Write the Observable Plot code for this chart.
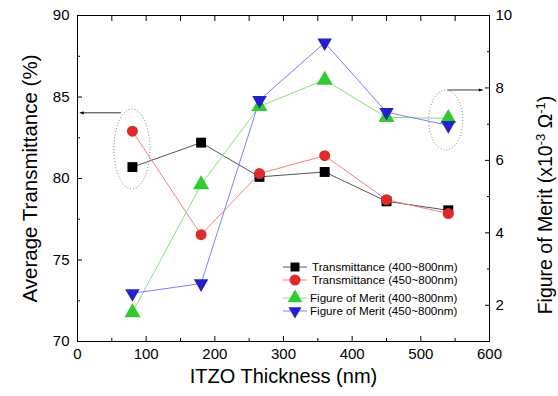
<!DOCTYPE html>
<html><head><meta charset="utf-8">
<script src="https://cdn.jsdelivr.net/npm/d3@7"></script>
<script src="https://cdn.jsdelivr.net/npm/@observablehq/plot@0.6"></script>
<style>body{margin:0;background:#fff} svg{display:block}</style>
</head><body><div id="chart"></div>
<script>
const thickness = [80, 180, 265, 360, 450, 540];
const trans400 = [80.7, 82.2, 80.1, 80.4, 78.6, 78.05];
const trans450 = [82.9, 76.55, 80.3, 81.4, 78.7, 77.85];
const fom400 = [1.8, 5.33, 7.49, 8.22, 7.19, 7.16];
const fom450 = [2.33, 2.6, 7.66, 9.25, 7.33, 6.97];
const seriesNames = ["Transmittance (400~800nm)", "Transmittance (450~800nm)", "Figure of Merit (400~800nm)", "Figure of Merit (450~800nm)"];
const xTicks = [0, 100, 200, 300, 400, 500, 600];
const xMinor = [50, 150, 250, 350, 450, 550];
const leftTicks = [70, 75, 80, 85, 90];
const leftMinor = [72.5, 77.5, 82.5, 87.5];
const rightTicks = [2, 4, 6, 8, 10];
const rightMinor = [1, 3, 5, 7, 9];
const xTitle = "ITZO Thickness (nm)";
const leftTitle = "Average Transmittance (%)";
const rightTitleParts = [["Figure of Merit (x10", false], ["-3", true], [" Ω", false], ["-1", true], [")", false]];

const toLeft = d3.scaleLinear([1, 10], [70, 90]);
const font = "Arial, 'Liberation Sans', sans-serif";

const colors = ["#000000", "#dd2b2b", "#2ecc2e", "#2222cc"];
const lineColors = ["#555555", "#f08080", "#80e080", "#8080ee"];

const rows = (vals, s, conv) => thickness.map((x, i) => ({x, y: conv ? toLeft(vals[i]) : vals[i], s}));
const d0 = rows(trans400, 0), d1 = rows(trans450, 1), d2 = rows(fom400, 2, true), d3r = rows(fom450, 3, true);

const plot = Plot.plot({
  width: 558, height: 396,
  marginLeft: 77, marginRight: 69, marginTop: 15, marginBottom: 55,
  style: {fontFamily: font, background: "#fff", color: "#000"},
  x: {domain: [0, 600]},
  y: {domain: [70, 90]},
  marks: [
    Plot.line(d0, {x: "x", y: "y", stroke: lineColors[0], strokeWidth: 1}),
    Plot.line(d1, {x: "x", y: "y", stroke: lineColors[1], strokeWidth: 1}),
    Plot.line(d2, {x: "x", y: "y", stroke: lineColors[2], strokeWidth: 1}),
    Plot.line(d3r, {x: "x", y: "y", stroke: lineColors[3], strokeWidth: 1}),
    Plot.dot(d0, {x: "x", y: "y", symbol: "square", r: 5.6, fill: colors[0]}),
    Plot.dot(d1, {x: "x", y: "y", symbol: "circle", r: 5.5, fill: colors[1]}),
    Plot.dot(d2, {x: "x", y: "y", symbol: "triangle", r: 6, fill: colors[2]}),
    Plot.dot(d3r, {x: "x", y: "y", symbol: "triangle", rotate: 180, r: 5.4, fill: colors[3]}),
    Plot.frame({stroke: "#000", strokeWidth: 1}),
    Plot.axisX(xTicks, {anchor: "bottom", tickSize: -5, tickPadding: 12, fontSize: 15, label: null}),
    Plot.axisX(xMinor, {anchor: "bottom", tickSize: -3, tickFormat: () => "", label: null}),
    Plot.axisX([...xTicks, ...xMinor], {anchor: "top", tickSize: -5, tickFormat: () => "", label: null}),
    Plot.axisY(leftTicks, {anchor: "left", tickSize: -5, tickPadding: 13, fontSize: 15, label: null}),
    Plot.axisY(leftMinor, {anchor: "left", tickSize: -3, tickFormat: () => "", label: null}),
    Plot.axisY(rightTicks.map(toLeft), {anchor: "right", tickSize: -5, tickPadding: 11, fontSize: 15, label: null, tickFormat: d => String(Math.round(toLeft.invert(d)))}),
    Plot.axisY(rightMinor.map(toLeft), {anchor: "right", tickSize: -3, tickFormat: () => "", label: null}),
    Plot.text([xTitle], {frameAnchor: "bottom", dy: 41, fontSize: 20, textAnchor: "middle", text: d => d}),
    Plot.text([leftTitle], {frameAnchor: "left", dx: -47, rotate: -90, fontSize: 20.5, textAnchor: "middle", text: d => d})
  ]
});
document.getElementById("chart").append(plot);

const xs = plot.scale("x"), ys = plot.scale("y");
const svg = d3.select(plot);

// right axis title with superscripts
const rt = svg.append("text")
  .attr("transform", "translate(545,205) rotate(-90)")
  .attr("text-anchor", "middle").attr("dy", "0.35em")
  .attr("font-family", font).attr("font-size", 19.5).attr("fill", "#000");
rightTitleParts.forEach(([t, sup]) => {
  const ts = rt.append("tspan").text(t);
  if (sup) ts.attr("font-size", 13).attr("baseline-shift", "super");
});

// annotations: dotted ellipses and arrows, placed via the plot's scales
const ellipses = [
  {x: 80, y: 81.78, rx: 18, ry: 40},
  {x: 537, y: toLeft(7.1), rx: 17, ry: 30}
];
svg.append("g").selectAll("ellipse").data(ellipses).join("ellipse")
  .attr("cx", d => xs.apply(d.x)).attr("cy", d => ys.apply(d.y))
  .attr("rx", d => d.rx).attr("ry", d => d.ry)
  .attr("fill", "none").attr("stroke", "#777").attr("stroke-width", 1).attr("stroke-dasharray", "1,2");

const defs = svg.append("defs");
defs.append("marker").attr("id", "ah").attr("viewBox", "0 0 10 10").attr("refX", 10).attr("refY", 5)
  .attr("markerWidth", 7).attr("markerHeight", 5).attr("orient", "auto-start-reverse")
  .append("path").attr("d", "M0,1L10,5L0,9Z").attr("fill", "#000");
const arrows = [
  {x1: 64, y1: 84, x2: 4, y2: 84},
  {x1: 540, y1: toLeft(7.93), x2: 591, y2: toLeft(7.93)}
];
svg.append("g").selectAll("line").data(arrows).join("line")
  .attr("x1", d => xs.apply(d.x1)).attr("y1", d => ys.apply(d.y1))
  .attr("x2", d => xs.apply(d.x2)).attr("y2", d => ys.apply(d.y2))
  .attr("stroke", "#000").attr("stroke-width", 0.8).attr("marker-end", "url(#ah)");

// legend
const legendY = [267, 280, 298, 311];
const symbols = [d3.symbolSquare, d3.symbolCircle, d3.symbolTriangle, d3.symbolTriangle];
const sizes = [80, 95, 95, 75];
const lg = svg.append("g").attr("font-family", font).attr("font-size", 11.6).attr("text-anchor", "start");
seriesNames.forEach((name, i) => {
  const g = lg.append("g").attr("transform", `translate(0,${legendY[i]})`);
  g.append("line").attr("x1", 283).attr("x2", 307).attr("stroke", lineColors[i]).attr("stroke-width", 1);
  g.append("path").attr("d", d3.symbol(symbols[i], sizes[i])())
    .attr("transform", `translate(295,0)${i === 3 ? " rotate(180)" : ""}`).attr("fill", colors[i]);
  g.append("text").attr("x", i < 2 ? 312 : 310).attr("dy", "0.35em").attr("text-anchor", "start").text(name);
});
</script>
</body></html>
